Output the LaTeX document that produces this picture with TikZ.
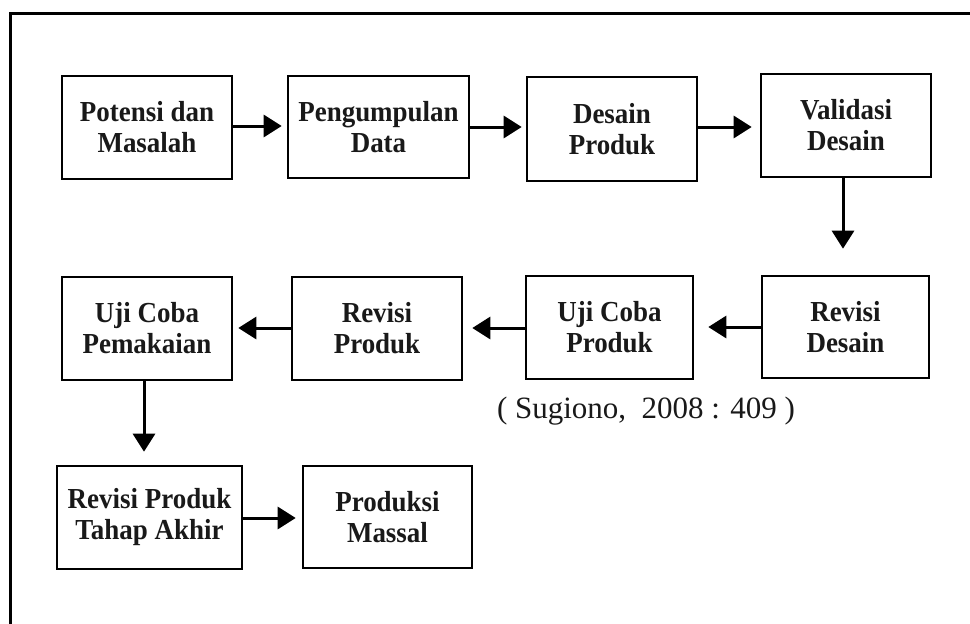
\documentclass[tikz,border=0pt]{standalone}
\usepackage{fontspec}
\setmainfont{Liberation Serif}
\newfontfamily\boxfont[FakeStretch=0.93]{Liberation Serif}
\usetikzlibrary{arrows.meta}
\begin{document}
\begin{tikzpicture}[x=1pt,y=-1pt,
  stepbox/.style={draw=black,line width=2.6pt,inner sep=0pt,align=center,
    font=\boxfont\bfseries\fontsize{29}{31}\selectfont,text=black!90},
  flow/.style={line width=3pt,-{Triangle[length=18pt,width=22pt]}}]
\useasboundingbox (0,0) rectangle (970,624);
\fill[white] (0,0) rectangle (970,624);
\draw[line width=3pt] (10,624) -- (10,13) -- (970,13);

\node[stepbox,minimum width=170pt,minimum height=103pt] (b1) at (147,127.5) {Potensi dan\\Masalah};
\node[stepbox,minimum width=181pt,minimum height=102pt] (b2) at (378.5,127) {Pengumpulan\\Data};
\node[stepbox,minimum width=170pt,minimum height=104pt] (b3) at (612,129) {Desain\\Produk};
\node[stepbox,minimum width=170pt,minimum height=103pt] (b4) at (846,125.5) {Validasi\\Desain};
\node[stepbox,minimum width=167pt,minimum height=102pt] (b5) at (845.5,327) {Revisi\\Desain};
\node[stepbox,minimum width=167pt,minimum height=103pt] (b6) at (609.5,327.5) {Uji Coba\\Produk};
\node[stepbox,minimum width=170pt,minimum height=103pt] (b7) at (377,328.5) {Revisi\\Produk};
\node[stepbox,minimum width=170pt,minimum height=103pt] (b8) at (147,328.5) {Uji Coba\\Pemakaian};
\node[stepbox,minimum width=185pt,minimum height=103pt] (b9) at (149.5,517.5) {Revisi Produk\\Tahap Akhir};
\node[stepbox,minimum width=169pt,minimum height=102pt] (b10) at (387.5,517) {Produksi\\Massal};

\node[font=\fontsize{31}{34}\selectfont,text=black!90,inner sep=0pt,anchor=base] (cite) at (646,418) {( Sugiono,\ \ 2008 : 409 )};

\draw[flow,shorten >=5pt] (b1.east |- 0,126) -- (b2.west |- 0,126);
\draw[flow,shorten >=4pt] (b2.east |- 0,127) -- (b3.west |- 0,127);
\draw[flow,shorten >=8pt] (b3.east |- 0,127) -- (b4.west |- 0,127);
\draw[flow,shorten >=26pt] (b4.south -| 843,0) -- (b5.north -| 843,0);
\draw[flow,shorten >=14pt] (b5.west |- 0,327) -- (b6.east |- 0,327);
\draw[flow,shorten >=9pt] (b6.west |- 0,328) -- (b7.east |- 0,328);
\draw[flow,shorten >=5pt] (b7.west |- 0,328) -- (b8.east |- 0,328);
\draw[flow,shorten >=13pt] (b8.south -| 144,0) -- (b9.north -| 144,0);
\draw[flow,shorten >=6pt] (b9.east |- 0,518) -- (b10.west |- 0,518);
\end{tikzpicture}
\end{document}
